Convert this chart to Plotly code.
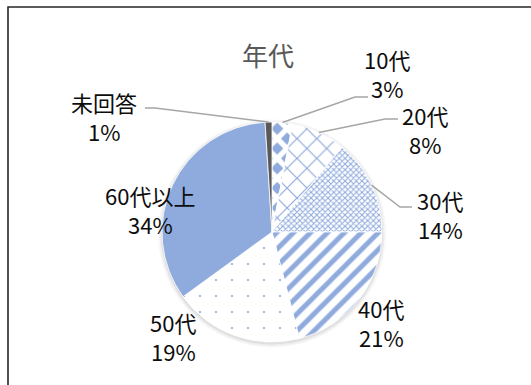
import math
import plotly.graph_objects as go

# Age-group breakdown (percent of respondents), clockwise from 12 o'clock
labels = ["10代", "20代", "30代", "40代", "50代", "60代以上", "未回答"]
values = [3, 8, 14, 21, 19, 34, 1]

BLUE = "#8FAADC"
DARK = "#595959"

W, H = 531, 385
CX, CY, R = 272, 232, 110  # pie centre and radius in pixels

# Per-slice fill styles
pattern_shapes = ["x", "x", "x", "/", ".", "", ""]
pattern_fg = ["white", BLUE, BLUE, BLUE, BLUE, BLUE, DARK]
pattern_bg = [BLUE, "white", "white", "white", "white", BLUE, DARK]
pattern_size = [14, 14, 4, 12, 16, 8, 8]
pattern_solid = [0.62, 0.16, 0.45, 0.42, 0.015, 0.5, 0.5]
slice_colors = ["white", "white", "white", "white", "white", BLUE, DARK]

# Label placement: centre of the first text line, and leader-line elbow (None = no leader)
label_pos = {
    "10代": (387, 59), "20代": (425, 115), "30代": (440, 200),
    "40代": (381, 308), "50代": (173, 322), "60代以上": (150, 195),
    "未回答": (104, 102),
}
leader = {
    "10代": [(368, 97), (355, 97)],
    "20代": [(398, 119), (385, 119)],
    "30代": [(412, 207), (400, 207)],
    "未回答": [(145, 108), (155, 108)],
}


def px(x):
    return x / W


def py(y):
    return 1 - y / H


fig = go.Figure()
fig.add_trace(go.Pie(
    labels=labels,
    values=values,
    sort=False,
    direction="clockwise",
    rotation=0,
    textinfo="none",
    hoverinfo="label+percent",
    showlegend=False,
    domain=dict(x=[px(CX - R), px(CX + R)], y=[py(CY + R), py(CY - R)]),
    marker=dict(
        colors=slice_colors,
        line=dict(color="white", width=0.8),
        pattern=dict(
            shape=pattern_shapes,
            fgcolor=pattern_fg,
            bgcolor=pattern_bg,
            size=pattern_size,
            solidity=pattern_solid,
            fillmode="replace",
        ),
    ),
))

shapes = []
# soft drop shadow behind the pie
for grow, alpha in [(4, 0.03), (2.5, 0.04), (1, 0.06)]:
    shapes.append(dict(
        type="circle", xref="paper", yref="paper", layer="below",
        x0=px(CX - R - grow), x1=px(CX + R + grow),
        y0=py(CY + R + grow + 1.5), y1=py(CY - R - grow + 1.5),
        fillcolor=f"rgba(0,0,0,{alpha})", line=dict(width=0),
    ))

# outer frame
shapes.append(dict(
    type="rect", xref="paper", yref="paper",
    x0=px(8), x1=px(W + 10), y0=py(H + 10), y1=py(7),
    line=dict(color="#262626", width=1.6), fillcolor="rgba(0,0,0,0)",
))

annotations = []
total = sum(values)
cum = 0
for lab, val in zip(labels, values):
    mid = (cum + val / 2) / total * 2 * math.pi
    cum += val
    ex, ey = CX + R * math.sin(mid), CY - R * math.cos(mid)
    if lab in leader:
        (ax, ay), (bx, by) = leader[lab]
        pts = [(ax, ay), (bx, by), (ex, ey)]
        path = "M " + " L ".join(f"{px(x):.5f},{py(y):.5f}" for x, y in pts)
        shapes.append(dict(type="path", xref="paper", yref="paper", path=path,
                           line=dict(color="#A6A6A6", width=1.5)))
    lx, ly = label_pos[lab]
    pct = round(val / total * 100)
    for text, yy in [(lab, ly), (f"{pct}%", ly + 29)]:
        annotations.append(dict(
            x=px(lx), y=py(yy), xref="paper", yref="paper",
            text=text, showarrow=False, xanchor="center", yanchor="middle",
            font=dict(family="Noto Sans CJK JP", size=22, color="#0D0D0D"),
        ))

annotations.append(dict(
    x=px(268), y=py(55), xref="paper", yref="paper", text="年代",
    showarrow=False, xanchor="center", yanchor="middle",
    font=dict(family="Noto Sans CJK JP", size=26, color="#595959"),
))

fig.update_layout(
    width=W, height=H,
    margin=dict(l=0, r=0, t=0, b=0),
    paper_bgcolor="white", plot_bgcolor="white",
    shapes=shapes, annotations=annotations,
)

fig.write_html("out.html")
